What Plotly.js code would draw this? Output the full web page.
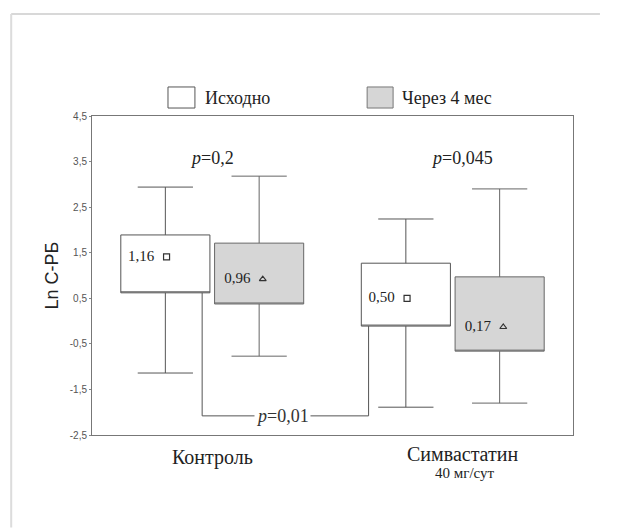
<!DOCTYPE html>
<html>
<head>
<meta charset="utf-8">
<script src="https://cdn.plot.ly/plotly-3.0.1.min.js"></script>
<style>html,body{margin:0;padding:0;background:#fff;}#chart{width:619px;height:528px;}</style>
</head>
<body>
<div id="chart"></div>
<script>
// ---- data ----
const groups = ["Контроль", "Симвастатин"];
const groupSub = ["", "40 мг/сут"];
const groupPos = [0, 1];
const seriesNames = ["Исходно", "Через 4 мес"];

// Исходно (baseline)
const baseQ1 = [0.62, -0.11];
const baseQ3 = [1.89, 1.27];
const baseLow = [-1.14, -1.89];
const baseHigh = [2.94, 2.24];
const baseMeanText = ["1,16", "0,50"];
const baseMarkY = [1.41, 0.50];

// Через 4 мес (after 4 months)
const afterQ1 = [0.375, -0.66];
const afterQ3 = [1.71, 0.97];
const afterLow = [-0.77, -1.80];
const afterHigh = [3.18, 2.90];
const afterMeanText = ["0,96", "0,17"];
const afterMarkY = [0.92, -0.13];

// p-values
const pWithin = ["<i>p</i>=0,2", "<i>p</i>=0,045"];
const pWithinY = 3.58;
const pBetween = "<i>p</i>=0,01";
const bracketY = -2.08;

const yTickVals = [-2.5, -1.5, -0.5, 0.5, 1.5, 2.5, 3.5, 4.5];
const yTickText = ["-2,5", "-1,5", "-0,5", "0,5", "1,5", "2,5", "3,5", "4,5"];

// ---- styles ----
const serif = "Liberation Serif, Times New Roman, serif";
const sans = "Liberation Sans, Arial, sans-serif";
const off = 0.2;
const markNudge = 0.01;
const bracketLeft = -0.042, bracketRight = 0.65;
const pad = "\u00a0\u00a0";

const traces = [
  {
    type: "box", name: seriesNames[0], x: groupPos,
    q1: baseQ1, median: baseQ1, q3: baseQ3, lowerfence: baseLow, upperfence: baseHigh,
    fillcolor: "#ffffff", line: {color: "#555", width: 1}, whiskerwidth: 0.62,
    hoverinfo: "skip", showlegend: false
  },
  {
    type: "box", name: seriesNames[1], x: groupPos,
    q1: afterQ1, median: afterQ1, q3: afterQ3, lowerfence: afterLow, upperfence: afterHigh,
    fillcolor: "#d6d6d6", line: {color: "#666", width: 1}, whiskerwidth: 0.62,
    hoverinfo: "skip", showlegend: false
  },
  {
    type: "scatter", mode: "markers+text",
    x: groupPos.map(g => g - off + markNudge), y: baseMarkY,
    text: baseMeanText.map(t => t + pad), textposition: "middle left",
    textfont: {family: serif, size: 15, color: "#222"},
    marker: {symbol: "square-open", size: 6, color: "#333", line: {width: 1.2}},
    showlegend: false, hoverinfo: "skip"
  },
  {
    type: "scatter", mode: "markers+text",
    x: groupPos.map(g => g + off + markNudge), y: afterMarkY,
    text: afterMeanText.map(t => t + pad), textposition: "middle left",
    textfont: {family: serif, size: 15, color: "#222"},
    marker: {symbol: "triangle-up-open", size: 6, color: "#333", line: {width: 1.2}},
    showlegend: false, hoverinfo: "skip"
  },
  {
    type: "scatter", mode: "lines",
    x: [bracketLeft, bracketLeft, bracketRight, bracketRight],
    y: [baseQ1[0], bracketY, bracketY, baseQ1[1]],
    line: {color: "#555", width: 1}, showlegend: false, hoverinfo: "skip"
  }
];

const annotations = [
  {x: groupPos[0], y: pWithinY, xref: "x", yref: "y", text: pWithin[0], showarrow: false,
   font: {family: serif, size: 18, color: "#222"}},
  {x: groupPos[1] + 0.04, y: pWithinY, xref: "x", yref: "y", text: pWithin[1], showarrow: false,
   font: {family: serif, size: 18, color: "#222"}},
  {x: (bracketLeft + bracketRight) / 2 - 0.014, y: bracketY, xref: "x", yref: "y", text: pBetween, showarrow: false,
   bgcolor: "#ffffff", borderpad: 1, font: {family: serif, size: 18, color: "#333"}},
  {x: 0.231, y: 1.056, xref: "paper", yref: "paper", xanchor: "left", yanchor: "middle", text: seriesNames[0], showarrow: false,
   font: {family: serif, size: 18, color: "#222"}},
  {x: 0.640, y: 1.056, xref: "paper", yref: "paper", xanchor: "left", yanchor: "middle", text: seriesNames[1], showarrow: false,
   font: {family: serif, size: 18, color: "#222"}},
  {x: groupPos[0], y: -0.072, xref: "x", yref: "paper", yanchor: "middle", text: groups[0], showarrow: false,
   font: {family: serif, size: 20, color: "#222"}},
  {x: groupPos[1] + 0.04, y: -0.060, xref: "x", yref: "paper", yanchor: "middle", text: groups[1], showarrow: false,
   font: {family: serif, size: 20, color: "#222"}},
  {x: groupPos[1] + 0.05, y: -0.119, xref: "x", yref: "paper", yanchor: "middle", text: groupSub[1], showarrow: false,
   font: {family: serif, size: 15, color: "#222"}}
];

const shapes = [
  {type: "rect", xref: "paper", yref: "paper", x0: 0.158, x1: 0.214, y0: 1.025, y1: 1.091,
   fillcolor: "#ffffff", line: {color: "#555", width: 1}},
  {type: "rect", xref: "paper", yref: "paper", x0: 0.572, x1: 0.626, y0: 1.025, y1: 1.091,
   fillcolor: "#d6d6d6", line: {color: "#777", width: 1}},
  {type: "line", xref: "paper", yref: "paper", x0: -0.168, x1: 1.056, y0: 1.32, y1: 1.32,
   line: {color: "#d8d8d8", width: 2}},
  {type: "line", xref: "paper", yref: "paper", x0: -0.168, x1: -0.168, y0: 1.32, y1: -0.29,
   line: {color: "#dcdcdc", width: 2}}
];

const layout = {
  width: 619, height: 528,
  margin: {l: 92, r: 46, t: 116, b: 93},
  paper_bgcolor: "#ffffff", plot_bgcolor: "#ffffff",
  boxmode: "group", boxgap: 0.22, boxgroupgap: 0.05,
  showlegend: false,
  xaxis: {
    range: [-0.5, 1.5], tickvals: groupPos, showticklabels: false,
    showgrid: false, zeroline: false, showline: true, mirror: true,
    linecolor: "#777", linewidth: 1, ticks: ""
  },
  yaxis: {
    range: [-2.5, 4.5], tickvals: yTickVals, ticktext: yTickText,
    showgrid: false, zeroline: false, showline: true, mirror: true,
    linecolor: "#777", linewidth: 1, ticks: "outside", ticklen: 2, tickcolor: "#888",
    tickfont: {family: sans, size: 10, color: "#555"},
    title: {text: "Ln С-РБ", font: {family: sans, size: 18, color: "#222"}, standoff: 6}
  },
  annotations: annotations,
  shapes: shapes
};

Plotly.newPlot("chart", traces, layout, {displayModeBar: false, staticPlot: true});
</script>
</body>
</html>
